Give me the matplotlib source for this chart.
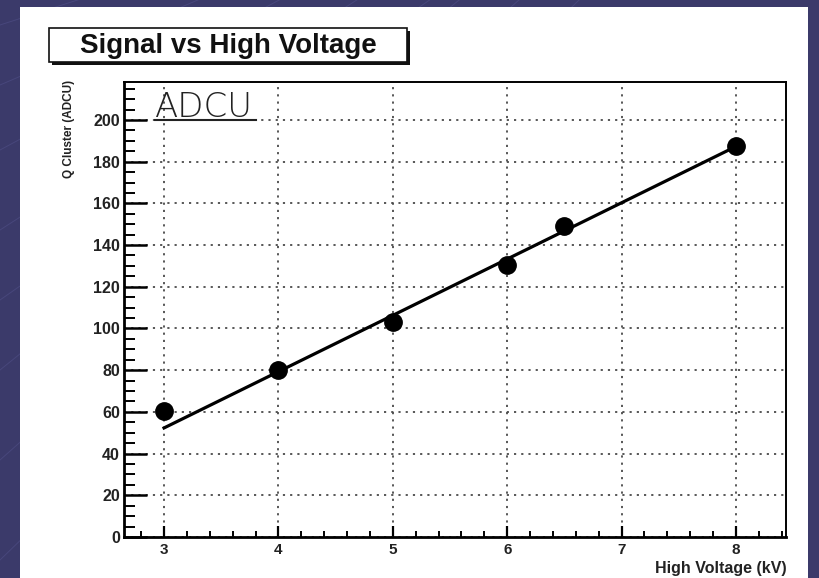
import matplotlib
matplotlib.use("Agg")
import matplotlib.pyplot as plt
from matplotlib.patches import Rectangle
from matplotlib.lines import Line2D
from matplotlib.ticker import MultipleLocator
import numpy as np

# Measured cluster charge versus applied high voltage
voltage_kv = [3.0, 4.0, 5.0, 6.0, 6.5, 8.0]
charge_adcu = [60.5, 80.0, 103.0, 130.5, 149.0, 187.5]

# Straight-line fit parameters (Q = slope * HV + offset)
fit_slope = 27.0
fit_offset = -28.7
fit_range = [3.0, 8.0]

x_ticks = [3, 4, 5, 6, 7, 8]
y_ticks = [0, 20, 40, 60, 80, 100, 120, 140, 160, 180, 200]

title_text = "Signal vs High Voltage"
x_label = "High Voltage (kV)"
y_label = "Q Cluster (ADCU)"
unit_note = "ADCU"

W, H = 819, 578
fig = plt.figure(figsize=(W / 100, H / 100), dpi=100)
fig.patch.set_facecolor("#3b3a6a")

def px(x, y):
    """pixel (top-left origin) -> figure fraction"""
    return x / W, 1 - y / H

# faint slide decoration lines in the margins
for y0, rise in [(25, 120), (85, 160), (150, 200), (230, 240), (300, 260),
                 (370, 300), (460, 330), (560, 360)]:
    fig.add_artist(Line2D([0, 1], [1 - y0 / H, 1 - (y0 - rise * 2.2) / H],
                          transform=fig.transFigure, color="#52518a",
                          lw=0.7, alpha=0.55, zorder=0))

# white canvas of the plot
fig.add_artist(Rectangle(px(20, 578), 788 / W, 571 / H, transform=fig.transFigure,
                         facecolor="white", edgecolor="none", zorder=1))

# title box with shadow
bx0, by0, bx1, by1 = 49, 28, 407, 62
fig.add_artist(Rectangle(px(bx0 + 3, by1 + 3), (bx1 - bx0) / W, (by1 - by0) / H,
                         transform=fig.transFigure, facecolor="#111111",
                         edgecolor="none", zorder=2))
fig.add_artist(Rectangle(px(bx0, by1), (bx1 - bx0) / W, (by1 - by0) / H,
                         transform=fig.transFigure, facecolor="white",
                         edgecolor="#111111", lw=1.2, zorder=3))
tx, ty = px((bx0 + bx1) / 2, (by0 + by1) / 2 + 1)
fig.text(tx, ty, title_text, ha="center", va="center", fontsize=20,
         fontweight="bold", family="Liberation Sans", color="#111111", zorder=4)

# axes frame
l, b = px(124, 537)
r, t = px(786, 82)
ax = fig.add_axes([l, b, r - l, t - b], zorder=5)
ax.set_facecolor("white")
ax.set_xlim(2.65, 8.437)
ax.set_ylim(0, 218.2)

for side in ["left", "bottom"]:
    ax.spines[side].set_linewidth(2.0)
for side in ["right", "top"]:
    ax.spines[side].set_linewidth(1.4)

ax.set_xticks(x_ticks)
ax.set_yticks(y_ticks)
ax.xaxis.set_minor_locator(MultipleLocator(0.2))
ax.yaxis.set_minor_locator(MultipleLocator(5))
ax.tick_params(axis="x", which="major", direction="in", length=8, width=1.6,
               pad=4, labelsize=11)
ax.tick_params(axis="x", which="minor", direction="in", length=4.5, width=1.4)
ax.tick_params(axis="y", which="major", direction="in", length=16.5, width=1.8,
               pad=3, labelsize=11.5)
ax.tick_params(axis="y", which="minor", direction="in", length=8, width=1.4)
for lab in ax.get_xticklabels() + ax.get_yticklabels():
    lab.set_fontweight("bold")
    lab.set_family("Liberation Sans")
    lab.set_color("#222222")

ax.grid(True, which="major", linestyle=(0, (1.2, 2.8)), color="#4a4a4a", lw=1.3)
ax.set_axisbelow(True)

# fit line and data points
fx = np.array(fit_range)
ax.plot(fx, fit_slope * fx + fit_offset, color="black", lw=2.3, zorder=3)
ax.plot(voltage_kv, charge_adcu, "o", color="black", markersize=12.5, zorder=4)

# axis titles at the axis ends
lx, ly = px(787, 568)
fig.text(lx, ly, x_label, ha="right", va="center", fontsize=11.5,
         fontweight="bold", family="Liberation Sans", color="#222222", zorder=6)
yx, yy = px(69, 80)
fig.text(yx, yy, y_label, ha="center", va="top", rotation=90, fontsize=8.5,
         fontweight="bold", family="Liberation Sans", color="#222222", zorder=6)

# unit note, underlined
nx, ny = px(155, 117)
fig.text(nx, ny, unit_note, ha="left", va="baseline", fontsize=24.5,
         fontweight="light", family="DejaVu Sans", color="#222222", zorder=6)
fig.add_artist(Line2D([155 / W, 256 / W], [1 - 120 / H, 1 - 120 / H],
                      transform=fig.transFigure, color="#222222", lw=1.5, zorder=6))

fig.savefig("out.png", dpi=100, facecolor=fig.get_facecolor())
